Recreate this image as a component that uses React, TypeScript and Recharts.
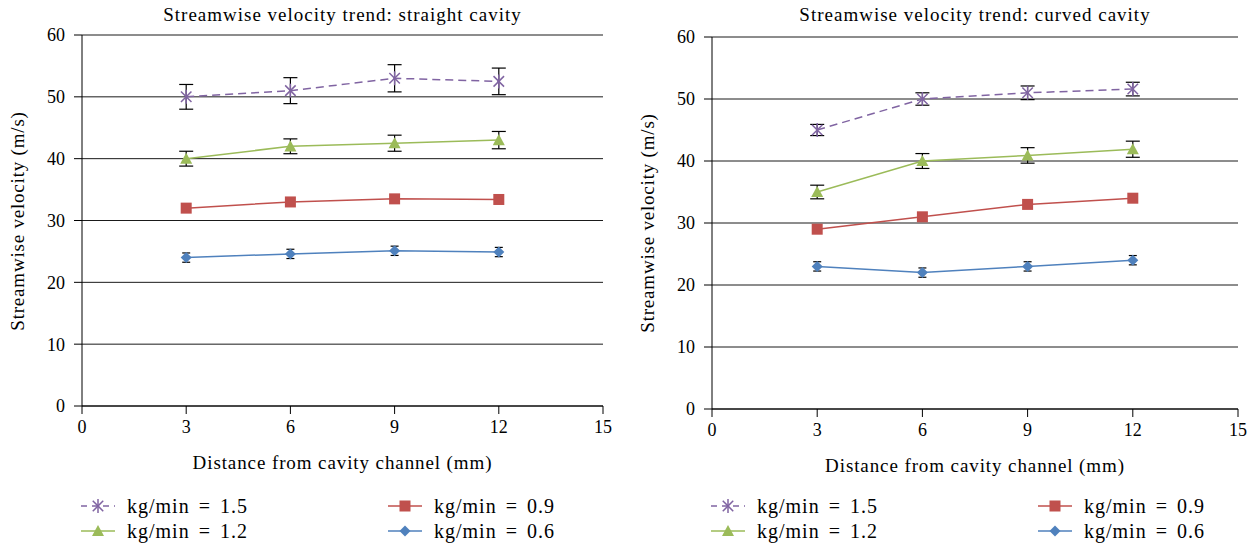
import React from 'react';
import { LineChart, Line, XAxis, YAxis, CartesianGrid, ErrorBar } from 'recharts';

const distances = [3, 6, 9, 12];
const xTicks = [0, 3, 6, 9, 12, 15];
const yTicks = [0, 10, 20, 30, 40, 50, 60];

// straight cavity
const straight15 = [50, 51, 53, 52.5];
const straight15Err = [2.0, 2.1, 2.2, 2.15];
const straight12 = [40, 42, 42.5, 43];
const straight12Err = [1.2, 1.2, 1.3, 1.4];
const straight09 = [32, 33, 33.5, 33.4];
const straight06 = [24, 24.6, 25.1, 24.9];
const straight06Err = [0.75, 0.75, 0.75, 0.75];

// curved cavity
const curved15 = [45, 50, 51, 51.6];
const curved15Err = [0.9, 1.0, 1.1, 1.1];
const curved12 = [35, 40, 40.9, 41.9];
const curved12Err = [1.1, 1.2, 1.25, 1.3];
const curved09 = [29, 31, 33, 34];
const curved06 = [23, 22, 23, 24];
const curved06Err = [0.75, 0.75, 0.75, 0.75];

const seriesNames = ['kg/min = 1.5', 'kg/min = 1.2', 'kg/min = 0.9', 'kg/min = 0.6'];

const PURPLE = '#8064A2';
const GREEN = '#9BBB59';
const RED = '#C0504D';
const BLUE = '#4F81BD';
const FONT = '"Liberation Serif", "Times New Roman", serif';

function buildData(s15: number[], e15: number[], s12: number[], e12: number[], s09: number[], s06: number[], e06: number[]) {
  return distances.map((d, i) => ({
    x: d,
    v15: s15[i], e15: e15[i],
    v12: s12[i], e12: e12[i],
    v09: s09[i],
    v06: s06[i], e06: e06[i],
  }));
}

const straightData = buildData(straight15, straight15Err, straight12, straight12Err, straight09, straight06, straight06Err);
const curvedData = buildData(curved15, curved15Err, curved12, curved12Err, curved09, curved06, curved06Err);

const StarDot = (props: any) => {
  const { cx, cy, index } = props;
  if (cx == null || cy == null) return <g key={`s${index}`} />;
  const r = 7;
  const d = r * 0.75;
  return (
    <g key={`s${index}`} stroke={PURPLE} strokeWidth={1.5}>
      <line x1={cx - d} y1={cy - d} x2={cx + d} y2={cy + d} />
      <line x1={cx - d} y1={cy + d} x2={cx + d} y2={cy - d} />
      <line x1={cx} y1={cy - r} x2={cx} y2={cy + r} />
    </g>
  );
};
const TriDot = (props: any) => {
  const { cx, cy, index } = props;
  if (cx == null || cy == null) return <g key={`t${index}`} />;
  const s = 6;
  return <polygon key={`t${index}`} points={`${cx},${cy - s} ${cx + s},${cy + s * 0.85} ${cx - s},${cy + s * 0.85}`} fill={GREEN} />;
};
const SquareDot = (props: any) => {
  const { cx, cy, index } = props;
  if (cx == null || cy == null) return <g key={`q${index}`} />;
  const s = 5.5;
  return <rect key={`q${index}`} x={cx - s} y={cy - s} width={s * 2} height={s * 2} fill={RED} />;
};
const DiamondDot = (props: any) => {
  const { cx, cy, index } = props;
  if (cx == null || cy == null) return <g key={`d${index}`} />;
  const s = 5.5;
  return <polygon key={`d${index}`} points={`${cx},${cy - s} ${cx + s},${cy} ${cx},${cy + s} ${cx - s},${cy}`} fill={BLUE} />;
};

const LegendIcon = ({ kind }: { kind: number }) => {
  const w = 34;
  const cy = 8;
  const cx = w / 2;
  let marker: React.ReactNode = null;
  let stroke = PURPLE;
  let dash: string | undefined;
  if (kind === 0) {
    stroke = PURPLE; dash = '6 5';
    marker = <StarDot cx={cx} cy={cy} index={0} />;
  } else if (kind === 1) {
    stroke = GREEN; marker = <TriDot cx={cx} cy={cy} index={0} />;
  } else if (kind === 2) {
    stroke = RED; marker = <SquareDot cx={cx} cy={cy} index={0} />;
  } else {
    stroke = BLUE; marker = <DiamondDot cx={cx} cy={cy} index={0} />;
  }
  return (
    <svg width={w} height={16} style={{ display: 'block' }}>
      <line x1={0} y1={cy} x2={w} y2={cy} stroke={stroke} strokeWidth={1.5} strokeDasharray={dash} />
      {marker}
    </svg>
  );
};

const tickStyle = { fill: '#000', fontSize: 18, fontFamily: FONT };

type PanelProps = {
  left: number;
  width: number;
  top: number;
  bottom: number;
  data: any[];
  title: string;
  legendCol2: number;
};

const errKeys = [
  { v: 'v15', e: 'e15', w: 7 },
  { v: 'v12', e: 'e12', w: 7 },
  { v: 'v06', e: 'e06', w: 4 },
];

const Panel = ({ left, width, top, bottom, data, title, legendCol2 }: PanelProps) => {
  const yAxisWidth = 82;
  const rightMargin = 17;
  const height = 548;
  const xAxisHeight = 30;
  const plotLeft = left + yAxisWidth;
  const plotRight = left + width - rightMargin;
  const plotCenter = (plotLeft + plotRight) / 2;
  const plotMidY = (top + bottom) / 2;
  const textStyle: React.CSSProperties = {
    position: 'absolute', fontFamily: FONT, color: '#000', whiteSpace: 'nowrap', fontSize: 19, lineHeight: '22px',
  };
  const legendItems = [0, 1, 2, 3].map((k) => {
    const col = k < 2 ? 0 : 1;
    const row = k === 0 || k === 2 ? 0 : 1;
    const x = col === 0 ? plotLeft - 1 : plotLeft + legendCol2;
    const y = 495 + row * 25;
    return (
      <div key={k} style={{ position: 'absolute', left: x, top: y, display: 'flex', alignItems: 'center', height: 22 }}>
        <LegendIcon kind={k} />
        <span style={{ fontFamily: FONT, fontSize: 20, marginLeft: 12, lineHeight: '22px', letterSpacing: 1, wordSpacing: 3 }}>
          {seriesNames[k]}
        </span>
      </div>
    );
  });
  return (
    <>
      <div style={{ position: 'absolute', left, top: 0 }}>
        <LineChart
          width={width}
          height={height}
          data={data}
          margin={{ top, right: rightMargin, left: 0, bottom: height - bottom - xAxisHeight }}
        >
          <CartesianGrid vertical={false} stroke="#1a1a1a" strokeWidth={1} />
          <XAxis
            dataKey="x"
            type="number"
            domain={[0, 15]}
            ticks={xTicks}
            tick={tickStyle}
            tickSize={8}
            tickMargin={6}
            height={xAxisHeight}
            axisLine={{ stroke: '#000' }}
            tickLine={{ stroke: '#000' }}
          />
          <YAxis
            type="number"
            domain={[0, 60]}
            ticks={yTicks}
            tick={tickStyle}
            tickSize={8}
            tickMargin={9}
            width={yAxisWidth}
            axisLine={{ stroke: '#000' }}
            tickLine={{ stroke: '#000' }}
          />
          {errKeys.map((k) => (
            <Line
              key={`err-${k.v}`}
              dataKey={k.v}
              stroke="none"
              dot={false}
              activeDot={false}
              legendType="none"
              isAnimationActive={false}
            >
              <ErrorBar dataKey={k.e} direction="y" width={k.w} stroke="#000" strokeWidth={1.2} />
            </Line>
          ))}
          <Line dataKey="v15" stroke={PURPLE} strokeWidth={1.5} strokeDasharray="8 5" dot={StarDot} isAnimationActive={false} />
          <Line dataKey="v12" stroke={GREEN} strokeWidth={1.5} dot={TriDot} isAnimationActive={false} />
          <Line dataKey="v09" stroke={RED} strokeWidth={1.5} dot={SquareDot} isAnimationActive={false} />
          <Line dataKey="v06" stroke={BLUE} strokeWidth={1.5} dot={DiamondDot} isAnimationActive={false} />
        </LineChart>
      </div>
      <div style={{ ...textStyle, left: plotCenter, top: 4, transform: 'translateX(-50%)', letterSpacing: 1 }}>{title}</div>
      <div style={{ ...textStyle, left: plotCenter, top: bottom + 46, transform: 'translateX(-50%)', letterSpacing: 0.9 }}>
        Distance from cavity channel (mm)
      </div>
      <div
        style={{
          ...textStyle,
          left: left + 18,
          top: plotMidY,
          transform: 'translate(-50%, -50%) rotate(-90deg)',
          letterSpacing: 0.8,
        }}
      >
        Streamwise velocity (m/s)
      </div>
      {legendItems}
    </>
  );
};

export default function App() {
  return (
    <div style={{ position: 'absolute', left: 0, top: 0, width: 1255, height: 548, background: '#fff', overflow: 'hidden' }}>
      <Panel left={0} width={620} top={35} bottom={406} data={straightData} title="Streamwise velocity trend: straight cavity" legendCol2={306} />
      <Panel left={630} width={625} top={37} bottom={409} data={curvedData} title="Streamwise velocity trend: curved cavity" legendCol2={326} />
    </div>
  );
}
